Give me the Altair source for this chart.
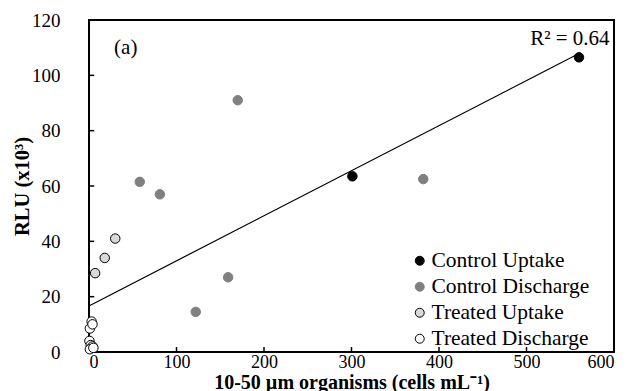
import altair as alt
import pandas as pd

# ---- data ----
groups = ["Control Uptake", "Control Discharge", "Treated Uptake", "Treated Discharge"]

cu_x = [301, 560]
cu_y = [63.5, 106.5]
cd_x = [58, 81, 170, 382, 122, 159]
cd_y = [61.5, 57, 91, 62.5, 14.5, 27]
tu_x = [7, 18, 30]
tu_y = [28.5, 34, 41]
td_x = [3, 1, 4, 0.5, 2, 4, 1, 5]
td_y = [11, 8.5, 10, 4, 2.5, 2, 1, 1.5]

xticks = [0, 100, 200, 300, 400, 500, 600]
yticks = [0, 20, 40, 60, 80, 100, 120]
x_range = [0, 600]
y_range = [0, 120]

ann_text = ["(a)", "R\u00b2 = 0.64"]
ann_x = [42, 595]
ann_y = [110, 113]
ann_align = ["center", "right"]

fills = ["#000000", "#808080", "#d9d9d9", "#ffffff"]
strokes = ["#000000", "#808080", "#000000", "#000000"]

rows = []
for g, xs_, ys_ in zip(groups, [cu_x, cd_x, tu_x, td_x], [cu_y, cd_y, tu_y, td_y]):
    for a, b in zip(xs_, ys_):
        rows.append({"x": a, "y": b, "group": g})
df = pd.DataFrame(rows)

W, H = 525, 332
FONT = "Liberation Serif"

xs = alt.Scale(domain=x_range, nice=False)
ys = alt.Scale(domain=y_range, nice=False)

# plot-area frame as a closed line through the scales
fx = [x_range[0], x_range[1], x_range[1], x_range[0], x_range[0]]
fy = [y_range[0], y_range[0], y_range[1], y_range[1], y_range[0]]
frame = alt.Chart(pd.DataFrame({"fx": fx, "fy": fy, "o": list(range(5))})).mark_line(
    color="black", strokeWidth=2
).encode(x=alt.X("fx:Q", scale=xs), y=alt.Y("fy:Q", scale=ys), order="o:Q")

# inward tick marks, each a short line segment
tick_rows = []
for i, v in enumerate(yticks):
    tick_rows += [{"tx": 0, "ty": v, "id": f"y{i}", "o": 0}, {"tx": 6, "ty": v, "id": f"y{i}", "o": 1}]
for i, v in enumerate(xticks):
    tick_rows += [{"tx": v, "ty": 0, "id": f"x{i}", "o": 0}, {"tx": v, "ty": 1.8, "id": f"x{i}", "o": 1}]
ticks = alt.Chart(pd.DataFrame(tick_rows)).mark_line(color="black", strokeWidth=1.5).encode(
    x=alt.X("tx:Q", scale=xs), y=alt.Y("ty:Q", scale=ys), detail="id:N", order="o:Q"
)

base = alt.Chart(df)

trend = base.transform_regression("x", "y").mark_line(color="black", strokeWidth=1.2).encode(
    x=alt.X("x:Q", scale=xs), y=alt.Y("y:Q", scale=ys)
)

points = base.mark_point(filled=False, size=90, strokeWidth=1, opacity=1).encode(
    x=alt.X(
        "x:Q", scale=xs,
        axis=alt.Axis(values=xticks, grid=False, ticks=False, domain=False,
                      labelPadding=1, labelFont=FONT, labelFontSize=18,
                      title="10-50 \u00b5m organisms (cells mL\u207b\u00b9)",
                      titleFont=FONT, titleFontSize=20, titleFontWeight="bold",
                      titleY=36, titleBaseline="alphabetic"),
    ),
    y=alt.Y(
        "y:Q", scale=ys,
        axis=alt.Axis(values=yticks, grid=False, ticks=False, domain=False,
                      labelPadding=29, labelFont=FONT, labelFontSize=19,
                      title="RLU (x10\u00b3)", titleFont=FONT, titleFontSize=20.5,
                      titleFontWeight="bold", titleX=-67, titleY=H / 2,
                      titleAngle=-90, titleAlign="center", titleBaseline="middle"),
    ),
    fill=alt.Fill("group:N", scale=alt.Scale(domain=groups, range=fills),
                  legend=alt.Legend(title=None, orient="none", legendX=320, legendY=230,
                                    labelFontSize=21.5, labelFont=FONT, symbolSize=80,
                                    rowPadding=3, labelOffset=1, symbolStrokeWidth=1,
                                    labelLimit=0)),
    stroke=alt.Stroke("group:N", scale=alt.Scale(domain=groups, range=strokes), legend=None),
)

ann = alt.Chart(pd.DataFrame({"t": ann_text, "x": ann_x, "y": ann_y, "a": ann_align}))
ann_a = ann.transform_filter("datum.a == 'center'").mark_text(
    font=FONT, fontSize=21, align="center", baseline="middle", color="black"
).encode(x=alt.X("x:Q", scale=xs), y=alt.Y("y:Q", scale=ys), text="t:N")
ann_r = ann.transform_filter("datum.a == 'right'").mark_text(
    font=FONT, fontSize=21, align="right", baseline="middle", color="black"
).encode(x=alt.X("x:Q", scale=xs), y=alt.Y("y:Q", scale=ys), text="t:N")

chart = alt.layer(frame, ticks, trend, points, ann_a, ann_r).properties(
    width=W, height=H,
    autosize=alt.AutoSizeParams(type="none"),
    padding={"left": 89, "top": 20, "right": 19, "bottom": 39},
    background="white",
).configure(
    font=FONT,
).configure_view(
    stroke=None
).configure_axis(
    labelColor="black", titleColor="black",
).configure_legend(
    labelColor="black", padding=0,
)

chart.save("out.html", embed_options={"renderer": "svg", "actions": False})
